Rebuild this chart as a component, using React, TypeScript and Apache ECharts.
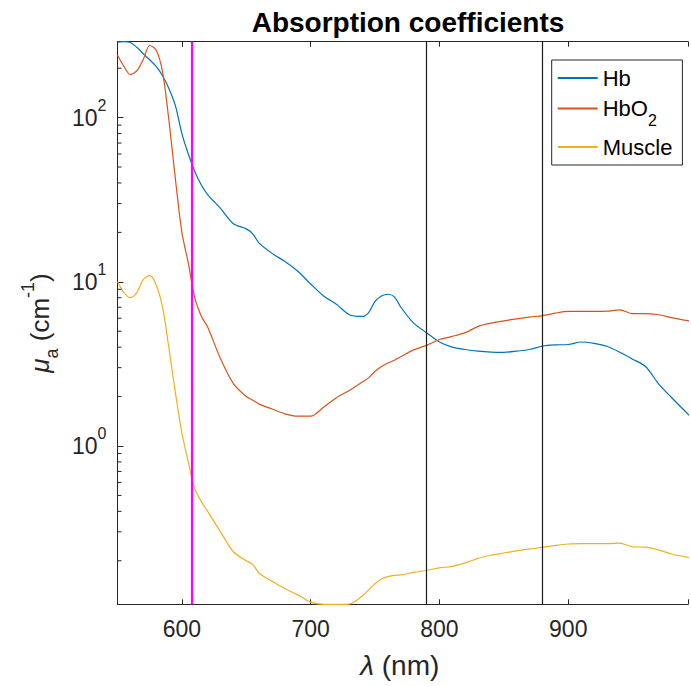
import React, { useEffect, useRef } from 'react';
import * as echarts from 'echarts';

const wavelengths = [550, 555, 560, 565, 570, 575, 580, 585, 590, 595, 600, 605, 610, 615, 620, 630, 640, 650, 655, 660, 670, 680, 690, 700, 710, 720, 730, 740, 745, 750, 755, 760, 765, 770, 780, 790, 800, 810, 820, 830, 840, 850, 860, 870, 880, 890, 900, 910, 920, 930, 940, 950, 960, 970, 980, 990, 1000];

const hb = [288, 290, 287, 268, 245, 225, 205, 180, 150, 118, 80, 60, 47, 39, 34, 28, 22.6, 21.0, 19.6, 17.2, 14.9, 13.3, 11.6, 9.7, 8.2, 7.3, 6.3, 6.15, 6.5, 7.6, 8.2, 8.4, 8.1, 7.0, 5.6, 4.9, 4.3, 4.0, 3.87, 3.78, 3.73, 3.72, 3.78, 3.87, 4.06, 4.13, 4.15, 4.3, 4.22, 4.05, 3.72, 3.38, 3.05, 2.4, 1.98, 1.65, 1.38];

const hbo2 = [240, 205, 183, 193, 226, 275, 258, 190, 95, 42, 20, 13, 8.0, 6.2, 5.3, 3.4, 2.4, 2.0, 1.9, 1.8, 1.68, 1.57, 1.52, 1.52, 1.72, 1.97, 2.18, 2.45, 2.6, 2.85, 3.05, 3.2, 3.33, 3.5, 3.85, 4.1, 4.45, 4.65, 4.9, 5.35, 5.6, 5.78, 5.95, 6.1, 6.22, 6.45, 6.6, 6.6, 6.6, 6.62, 6.75, 6.4, 6.4, 6.3, 6.05, 5.85, 5.7];

const muscle = [10, 8.6, 8.0, 8.6, 10.3, 10.9, 9.6, 7.0, 3.9, 2.1, 1.2, 0.8, 0.55, 0.46, 0.4, 0.3, 0.227, 0.2, 0.19, 0.168, 0.15, 0.135, 0.124, 0.112, 0.1086, 0.1086, 0.109, 0.122, 0.133, 0.145, 0.155, 0.16, 0.163, 0.164, 0.17, 0.175, 0.181, 0.185, 0.194, 0.207, 0.216, 0.223, 0.23, 0.236, 0.241, 0.248, 0.253, 0.254, 0.254, 0.254, 0.256, 0.243, 0.242, 0.233, 0.22, 0.212, 0.205];

const seriesNames = ['Hb', 'HbO2', 'Muscle'];
const seriesColors = ['#0072BD', '#D95319', '#EDB120'];
const xTickLabels = [600, 700, 800, 900];
const minorTicks = [0.2, 0.3, 0.4, 0.5, 0.6, 0.7, 0.8, 0.9, 2, 3, 4, 5, 6, 7, 8, 9, 20, 30, 40, 50, 60, 70, 80, 90, 200];
const markerLines = [
  { x: 608, color: '#FF00FF', width: 2.2 },
  { x: 790, color: '#1a1a1a', width: 1.2 },
  { x: 880, color: '#1a1a1a', width: 1.2 },
];

const FONT = '"Liberation Sans", Arial, Helvetica, sans-serif';
const AX = '#262626';

export default function App() {
  const ref = useRef<HTMLDivElement>(null);
  useEffect(() => {
    if (!ref.current) return;
    const chart = echarts.init(ref.current, undefined, { renderer: 'svg' });
    const dataSets = [hb, hbo2, muscle];
    const lineSeries = dataSets.map((vals, k) => ({
      name: seriesNames[k],
      type: 'line',
      data: wavelengths.map((w, i) => [w, vals[i]]),
      symbol: 'none',
      smooth: 0.3,
      lineStyle: { color: seriesColors[k], width: 1.2 },
      itemStyle: { color: seriesColors[k] },
      z: 3,
      ...(k === 0
        ? {
            markLine: {
              silent: true,
              symbol: ['none', 'none'],
              label: { show: false },
              z: 4,
              data: markerLines.map((m) => ({
                xAxis: m.x,
                lineStyle: { color: m.color, width: m.width, type: 'solid' },
              })),
            },
          }
        : {}),
    }));
    const option: any = {
      animation: false,
      backgroundColor: '#ffffff',
      title: {
        text: 'Absorption coefficients',
        left: 403,
        top: 3,
        textAlign: 'center',
        textStyle: { fontFamily: FONT, fontSize: 28, fontWeight: 'bold', color: '#000' },
      },
      grid: { left: 117.5, top: 41.7, width: 573.5, height: 562.6, containLabel: false },
      legend: {
        data: seriesNames,
        orient: 'vertical',
        left: 551.7,
        top: 60,
        padding: [6, 10, 6, 5],
        itemGap: 6.5,
        itemWidth: 40,
        itemHeight: 12,
        borderColor: AX,
        borderWidth: 1,
        backgroundColor: '#fff',
        itemStyle: { opacity: 0 },
        formatter: (n: string) => (n === 'HbO2' ? 'HbO{sub|2}' : n),
        textStyle: {
          fontFamily: FONT,
          fontSize: 22,
          lineHeight: 24,
          color: '#000',
          rich: {
            sub: { fontFamily: FONT, fontSize: 16, lineHeight: 16, verticalAlign: 'bottom', padding: [0, 0, -8, 0], color: '#000' },
          },
        },
      },
      xAxis: [
        {
          type: 'value',
          min: 550,
          max: 993,
          position: 'bottom',
          axisLine: { show: true, onZero: false, lineStyle: { color: AX, width: 1 } },
          axisTick: { inside: true, length: 5, lineStyle: { color: AX } },
          splitLine: { show: false },
          axisLabel: {
            fontFamily: FONT,
            fontSize: 23,
            color: AX,
            margin: 13,
            formatter: (v: number) => (xTickLabels.includes(v) ? String(v) : ''),
          },
          name: '{i|λ} (nm)',
          nameLocation: 'middle',
          nameGap: 47,
          nameTextStyle: {
            fontFamily: FONT,
            fontSize: 28,
            color: AX,
            padding: [0, 6, 0, 0],
            rich: { i: { fontFamily: FONT, fontSize: 28, fontStyle: 'italic', color: AX } },
          },
        },
        {
          type: 'value',
          min: 550,
          max: 993,
          position: 'top',
          axisLine: { show: true, onZero: false, lineStyle: { color: AX, width: 1 } },
          axisTick: { inside: true, length: 5, lineStyle: { color: AX } },
          splitLine: { show: false },
          axisLabel: { show: false },
        },
      ],
      yAxis: [
        {
          type: 'log',
          logBase: 10,
          min: 0.1086,
          max: 290,
          axisLine: { show: true, onZero: false, lineStyle: { color: AX, width: 1 } },
          axisTick: { inside: true, length: 6, lineStyle: { color: AX } },
          splitLine: { show: false },
          axisLabel: {
            fontFamily: FONT,
            fontSize: 23,
            color: AX,
            margin: 11,
            formatter: (v: number) => {
              const l = Math.log10(v);
              const e = Math.round(l);
              if (Math.abs(l - e) > 1e-6) return '';
              return `{b|10}{s|${e}}`;
            },
            rich: {
              b: { fontFamily: FONT, fontSize: 23, lineHeight: 24, color: AX },
              s: { fontFamily: FONT, fontSize: 16, lineHeight: 16, verticalAlign: 'top', padding: [-8, 0, 0, 0], color: AX },
            },
          },
          name: '{i|μ}{sub|a} (cm{sup|-1})',
          nameLocation: 'middle',
          nameRotate: 90,
          nameGap: 62,
          nameTextStyle: {
            fontFamily: FONT,
            fontSize: 26,
            color: AX,
            rich: {
              i: { fontFamily: FONT, fontSize: 26, fontStyle: 'italic', color: AX, lineHeight: 28 },
              sub: { fontFamily: FONT, fontSize: 18, lineHeight: 18, verticalAlign: 'bottom', padding: [0, 0, -7, 0], color: AX },
              sup: { fontFamily: FONT, fontSize: 18, lineHeight: 18, verticalAlign: 'top', padding: [-7, 0, 0, 0], color: AX },
            },
          },
        },
      ],
      series: [
        ...lineSeries,
        {
          name: 'minorTicks',
          type: 'custom',
          silent: true,
          clip: false,
          z: 6,
          data: minorTicks.map((v) => [550, v]),
          renderItem: (_p: any, api: any) => {
            const pt = api.coord([api.value(0), api.value(1)]);
            return {
              type: 'line',
              shape: { x1: pt[0], y1: pt[1], x2: pt[0] + 4, y2: pt[1] },
              style: { stroke: AX, lineWidth: 1 },
            };
          },
        },
      ],
    };
    chart.setOption(option);
    return () => chart.dispose();
  }, []);
  return <div ref={ref} style={{ position: 'absolute', left: 0, top: 0, width: 691, height: 686 }} />;
}
